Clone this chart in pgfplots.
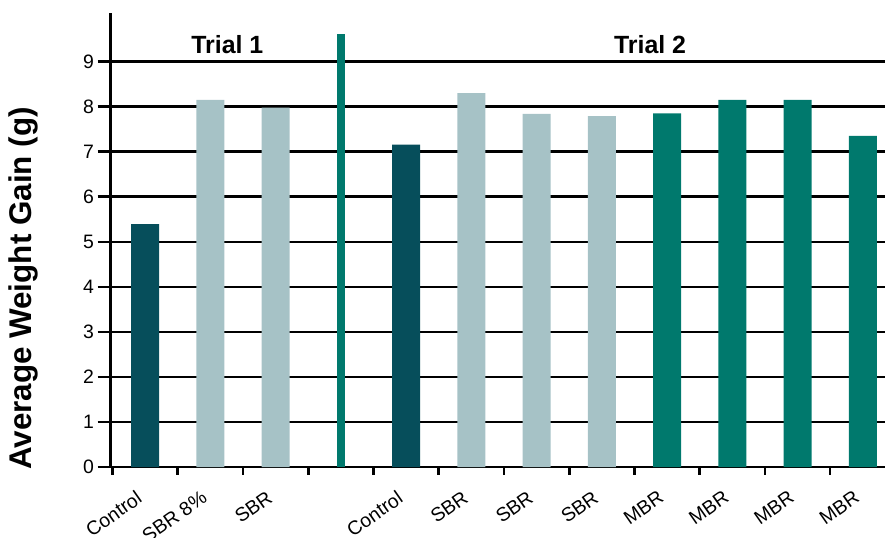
\documentclass[border=0pt]{standalone}
\usepackage{pgfplots}
\pgfplotsset{compat=1.18}
\usepackage{fontspec}
\setmainfont{Liberation Sans}

\definecolor{ctrlteal}{RGB}{6,78,91}
\definecolor{sbrgrey}{RGB}{166,194,198}
\definecolor{mbrteal}{RGB}{0,121,109}

\begin{document}
\begin{tikzpicture}
\begin{axis}[
    at={(0,0)}, anchor=south west,
    scale only axis,
    width=774.5bp, height=454bp,
    xmin=-0.53, xmax=11.34,
    ymin=0, ymax=10.08,
    axis x line=bottom, axis y line=left,
    axis line style={line width=2.6bp, -},
    ybar, bar width=28bp,
    ytick={0,1,...,9},
    ymajorgrids=true,
    major grid style={line width=2.6bp, black},
    xtick={0,1,...,11},
    xticklabels={Control, SBR 8\%, SBR, {}, Control, SBR, SBR, SBR, MBR, MBR, MBR, MBR},
    minor xtick={-0.5,0.5,...,10.5},
    tick align=outside,
    major tick length=13bp,
    minor tick length=8bp,
    tick style={line width=2.6bp, black},
    major x tick style={draw=none},
    /pgf/number format/assume math mode=true,
    yticklabel style={font=\fontsize{19.5}{22}\selectfont},
    xticklabel style={font=\fontsize{19.5}{22}\selectfont, xshift=-9bp, yshift=-5bp, rotate=35, anchor=north east},
    ylabel={Average Weight Gain (g)},
    ylabel style={at={(rel axis cs:-0.113,0.393)}, anchor=center, font=\fontsize{31.5}{34}\selectfont\bfseries},
    clip=false,
]
\addplot[fill=ctrlteal, draw=none, bar shift=0pt] coordinates {(0,5.39) (4,7.16)};
\addplot[fill=sbrgrey, draw=none, bar shift=0pt] coordinates {(1,8.15) (2,7.98) (5,8.30) (6,7.84) (7,7.79)};
\addplot[fill=mbrteal, draw=none, bar shift=0pt] coordinates {(8,7.85) (9,8.15) (10,8.15) (11,7.35)};
\addplot[fill=mbrteal, draw=none, bar shift=0pt, bar width=8bp] coordinates {(3,9.62)};
\node[font=\fontsize{25}{28}\selectfont\bfseries] at (axis cs:1.26,9.37) {Trial 1};
\node[font=\fontsize{25}{28}\selectfont\bfseries] at (axis cs:7.74,9.37) {Trial 2};
\end{axis}
\pgfresetboundingbox
\path (-110.5bp,-71bp) rectangle (774.5bp,467bp);
\end{tikzpicture}
\end{document}
